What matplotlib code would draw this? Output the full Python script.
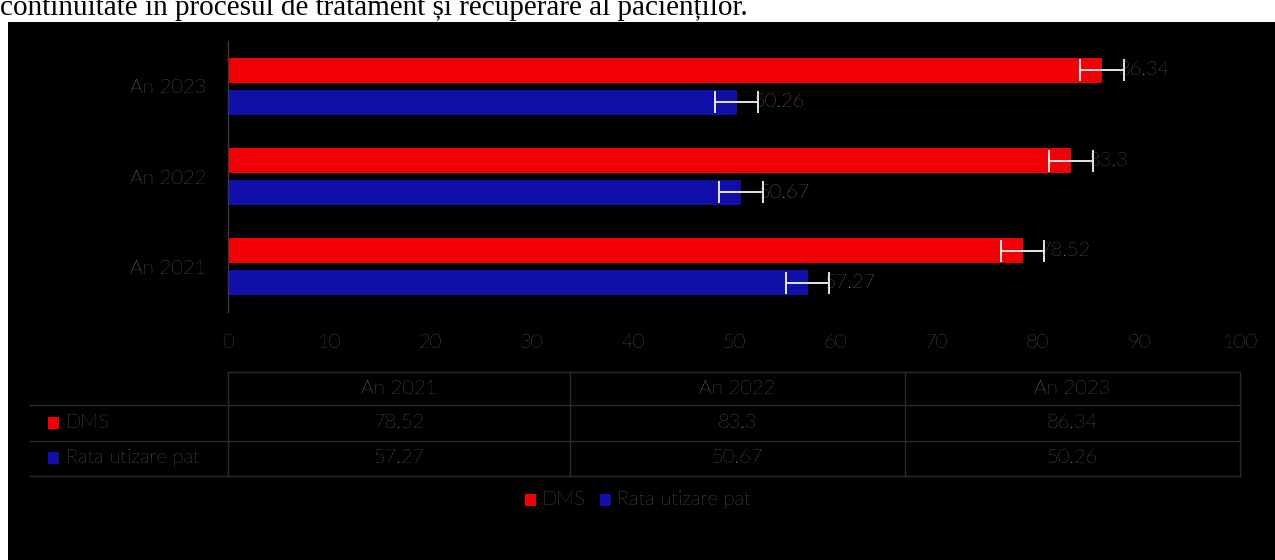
import matplotlib
matplotlib.use('Agg')
import matplotlib.pyplot as plt
from matplotlib.patches import Rectangle
from matplotlib.lines import Line2D

years = ['An 2021', 'An 2022', 'An 2023']
dms = [78.52, 83.3, 86.34]
rata = [57.27, 50.67, 50.26]
err = 2.15
x_ticks = [0, 10, 20, 30, 40, 50, 60, 70, 80, 90, 100]
series = ['DMS', 'Rata utizare pat']
caption = 'continuitate în procesul de tratament și recuperare al pacienților.'

RED = '#f20005'
BLUE = '#1010a8'
GREY = '#979797'
W, H = 1275, 560
FS = 14.5

plt.rcParams['font.family'] = ['Lato', 'DejaVu Sans']
plt.rcParams['font.weight'] = 'light'

fig = plt.figure(figsize=(W / 100, H / 100), dpi=100, facecolor='white')


def fx(px):
    return px / W


def fy(py):
    return 1 - py / H


# black chart area below the caption
fig.patches.append(Rectangle((fx(8), 0), 1 - fx(8), fy(22), transform=fig.transFigure,
                             facecolor='black', edgecolor='none', zorder=-5))
fig.text(fx(0), fy(15), caption, family='Liberation Serif', fontsize=21, fontweight='normal',
         color='black', va='baseline', ha='left')

ax = fig.add_axes([fx(228), fy(312), fx(1240) - fx(228), fy(41) - fy(312)], zorder=2)
ax.patch.set_alpha(0)

pos = list(range(len(years)))
h = 0.276
off = 0.177
ekw = dict(ecolor='#e6e6e6', elinewidth=1.4, capsize=8, capthick=1.4)
ax.barh([p + off for p in pos], dms, height=h, color=RED, xerr=err, error_kw=ekw)
ax.barh([p - off for p in pos], rata, height=h, color=BLUE, xerr=err, error_kw=ekw)

for p, v in zip(pos, dms):
    ax.text(v + 1.7, p + off, f'{v:g}', color=GREY, fontsize=FS, va='center', ha='left')
for p, v in zip(pos, rata):
    ax.text(v + 1.7, p - off, f'{v:g}', color='#bcbcbc', fontsize=FS, va='center', ha='left')

ax.set_xlim(0, 100)
ax.set_ylim(-0.5, 2.5)
ax.set_xticks(x_ticks)
ax.set_yticks(pos)
ax.set_yticklabels(years)
ax.tick_params(axis='both', length=0, colors=GREY, labelsize=FS)
ax.tick_params(axis='x', pad=16)
ax.tick_params(axis='y', pad=16)
for s in ['top', 'right', 'bottom']:
    ax.spines[s].set_visible(False)
ax.spines['left'].set_color('#3a3a3a')
ax.spines['left'].set_linewidth(1)

# data table under the axis
grid = '#2a2a2a'
col_edges = [228, 570, 905, 1240]
row_lines = [372, 405, 441, 476]
fig.add_artist(Line2D([fx(228), fx(1240)], [fy(372)] * 2, color=grid, lw=1))
for ry in row_lines[1:]:
    fig.add_artist(Line2D([fx(30), fx(1240)], [fy(ry)] * 2, color=grid, lw=1))
for cx in col_edges:
    fig.add_artist(Line2D([fx(cx)] * 2, [fy(372), fy(476)], color=grid, lw=1))

for i, yr in enumerate(years):
    cx = (col_edges[i] + col_edges[i + 1]) / 2
    fig.text(fx(cx), fy(389), yr, color=GREY, fontsize=FS, ha='center', va='center')
    fig.text(fx(cx), fy(423), f'{dms[i]:g}', color=GREY, fontsize=FS, ha='center', va='center')
    fig.text(fx(cx), fy(458), f'{rata[i]:g}', color=GREY, fontsize=FS, ha='center', va='center')

for name, color, ry in zip(series, [RED, BLUE], [423, 458]):
    fig.patches.append(Rectangle((fx(48), fy(ry + 6)), fx(11), fy(ry - 6) - fy(ry + 6),
                                 transform=fig.transFigure, facecolor=color, edgecolor='none'))
    fig.text(fx(66), fy(ry), name, color=GREY, fontsize=FS, ha='left', va='center')

# legend at the bottom
leg = [(series[0], RED, 525, 542), (series[1], BLUE, 600, 617)]
for name, color, sx, tx in leg:
    fig.patches.append(Rectangle((fx(sx), fy(506)), fx(11), fy(494) - fy(506),
                                 transform=fig.transFigure, facecolor=color, edgecolor='none'))
    fig.text(fx(tx), fy(500), name, color=GREY, fontsize=FS, ha='left', va='center')

fig.savefig('out.png', dpi=100, facecolor='white')
